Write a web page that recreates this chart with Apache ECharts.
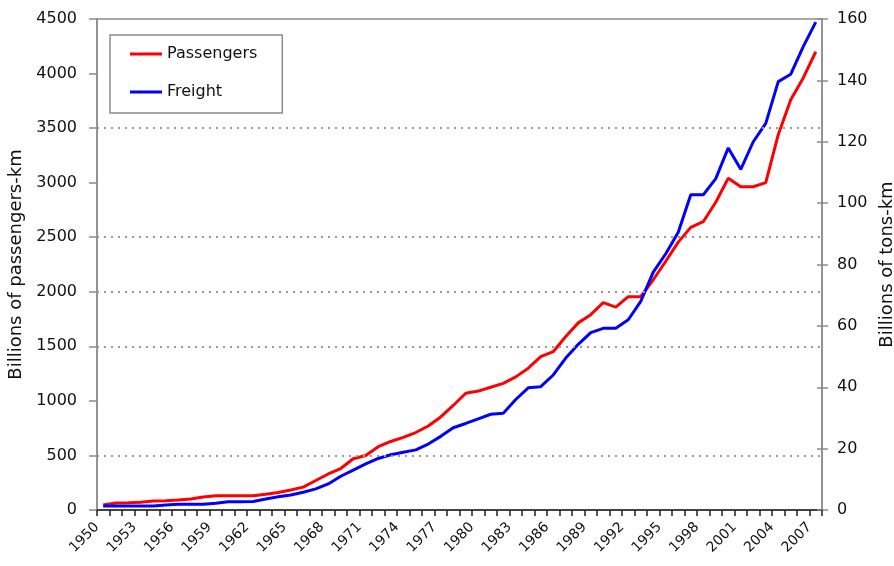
<!DOCTYPE html>
<html>
<head>
<meta charset="utf-8">
<script src="https://cdn.jsdelivr.net/npm/echarts@6/dist/echarts.min.js"></script>
<style>
html,body{margin:0;padding:0;background:#fff;}
#c{width:894px;height:566px;}
</style>
</head>
<body>
<div id="c"></div>
<script>
const years = ['1950','1951','1952','1953','1954','1955','1956','1957','1958','1959',
  '1960','1961','1962','1963','1964','1965','1966','1967','1968','1969',
  '1970','1971','1972','1973','1974','1975','1976','1977','1978','1979',
  '1980','1981','1982','1983','1984','1985','1986','1987','1988','1989',
  '1990','1991','1992','1993','1994','1995','1996','1997','1998','1999',
  '2000','2001','2002','2003','2004','2005','2006','2007'];
const passengers = [46,65,67,72,82,85,92,100,120,131,
  131,131,131,145,160,183,210,270,330,380,
  470,500,580,628,665,710,770,853,958,1070,
  1090,1125,1160,1220,1300,1405,1451,1590,1715,1790,
  1900,1860,1955,1955,2110,2280,2455,2590,2642,2820,
  3040,2963,2963,3000,3440,3760,3960,4200];
const freight = [1.3,1.3,1.3,1.3,1.3,1.6,1.9,1.9,1.9,2.2,
  2.7,2.7,2.8,3.6,4.3,4.9,5.8,6.9,8.5,11.0,
  13.0,15.0,16.8,18.0,18.8,19.6,21.5,24.0,26.8,28.2,
  29.7,31.2,31.5,36.0,39.8,40.2,44,49.5,54,57.8,
  59.2,59.2,62,68,77.5,83.5,90.5,102.7,102.7,108,
  118,111,120,126,139.6,142,151,159];
const gridValues = [500,1500,2000,2500,3500];
const seriesNames = ['Passengers','Freight'];
const leftAxisName = 'Billions of passengers-km';
const rightAxisName = 'Billions of tons-km';

// tick labels sit on the tick marks (band boundaries), so a boundary-aligned label axis is used
const tickLabels = years.concat(['']);

const FONT = 'DejaVu Sans, Verdana, sans-serif';
const chart = echarts.init(document.getElementById('c'), null, {renderer:'canvas'});
chart.setOption({
  animation:false,
  backgroundColor:'#fff',
  grid:{left:97,right:72,top:19,bottom:56,containLabel:false,outerBoundsMode:'none',
    show:true,borderColor:'#8c8c8c',borderWidth:1.5,backgroundColor:'transparent'},
  legend:{
    data:seriesNames,
    orient:'vertical',
    left:110, top:35,
    icon:'rect', itemWidth:32, itemHeight:3, itemGap:22,
    padding:[11,25,13,20],
    borderColor:'#8c8c8c', borderWidth:1.5,
    textStyle:{fontSize:16,color:'#111',fontFamily:FONT}
  },
  xAxis:[{
    type:'category', data:years, boundaryGap:true,
    axisLine:{lineStyle:{color:'#222',width:1.5}},
    axisTick:{show:true,interval:0,length:6,lineStyle:{color:'#222',width:1.5}},
    axisLabel:{show:false},
    splitLine:{show:false}
  },{
    type:'category', data:tickLabels, boundaryGap:false, position:'bottom',
    axisLine:{show:false}, axisTick:{show:false},
    axisLabel:{interval:2,rotate:45,fontSize:14,color:'#111',margin:15,fontFamily:FONT},
    splitLine:{show:false}
  }],
  yAxis:[{
    type:'value', min:0, max:4500, interval:500, position:'left',
    name:leftAxisName, nameLocation:'middle', nameRotate:90, nameGap:66,
    nameTextStyle:{fontSize:18,color:'#111',fontFamily:FONT},
    axisLine:{show:true,lineStyle:{color:'#8c8c8c',width:1.5}},
    axisTick:{show:true,length:8,lineStyle:{color:'#8c8c8c',width:1.5}},
    axisLabel:{fontSize:16,color:'#111',margin:20,fontFamily:FONT,formatter:v=>String(v)},
    splitLine:{show:false}
  },{
    type:'value', min:0, max:160, interval:20, position:'right',
    name:rightAxisName, nameLocation:'middle', nameRotate:90, nameGap:54,
    nameTextStyle:{fontSize:18,color:'#111',fontFamily:FONT},
    axisLine:{show:true,lineStyle:{color:'#8c8c8c',width:1.5}},
    axisTick:{show:true,length:6,lineStyle:{color:'#8c8c8c',width:1.5}},
    axisLabel:{fontSize:16,color:'#111',margin:15,fontFamily:FONT,formatter:v=>String(v)},
    splitLine:{show:false}
  },{
    type:'value', min:0, max:160, interval:20, position:'right',
    axisLine:{show:false},
    axisTick:{show:true,inside:true,length:5,lineStyle:{color:'#8c8c8c',width:1.5}},
    axisLabel:{show:false},
    splitLine:{show:false}
  }],
  series:[{
    name:'grid', type:'line', data:[], yAxisIndex:0, z:1, silent:true,
    markLine:{silent:true,symbol:'none',label:{show:false},
      lineStyle:{type:[2,5],color:'#9a9a9a',width:2},
      data:gridValues.map(v=>({yAxis:v}))}
  },{
    name:seriesNames[0], type:'line', data:passengers, yAxisIndex:0, xAxisIndex:0,
    showSymbol:false, symbol:'none', z:3,
    lineStyle:{color:'#ff0000',width:3}, itemStyle:{color:'#ff0000'}
  },{
    name:seriesNames[1], type:'line', data:freight, yAxisIndex:1, xAxisIndex:0,
    showSymbol:false, symbol:'none', z:3,
    lineStyle:{color:'#0000ff',width:3}, itemStyle:{color:'#0000ff'}
  }]
});
</script>
</body>
</html>
